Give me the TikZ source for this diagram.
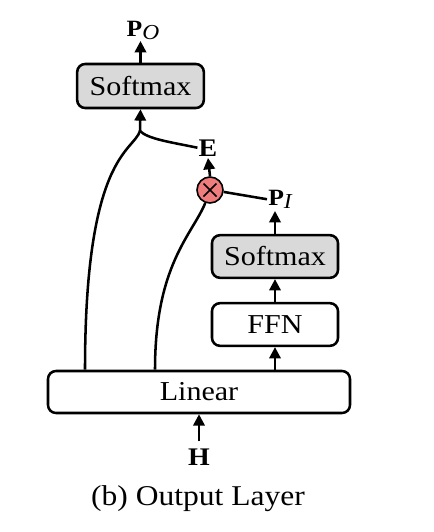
\documentclass[tikz,border=0pt]{standalone}
\usepackage{fontspec}
\setmainfont{Liberation Serif}[FakeStretch=1.1]
\usetikzlibrary{arrows.meta,calc}
\definecolor{boxgray}{RGB}{217,217,217}
\definecolor{mulred}{RGB}{240,125,125}
\begin{document}
\begin{tikzpicture}[x=0.75pt,y=-0.75pt,
  line width=1.9pt,
  arr/.style={-{Triangle[length=8.5pt,width=8.5pt]}},
  blk/.style={draw,rounded corners=6pt,inner sep=0pt,font=\fontsize{20.5}{24}\selectfont},
  gblk/.style={blk,fill=boxgray},
  lbl/.style={inner sep=0pt,font=\fontsize{19}{22}\selectfont\bfseries},
  plbl/.style={inner sep=0pt,font=\fontsize{17.5}{20}\selectfont\bfseries},
  mul/.style={circle,draw,fill=mulred,minimum size=19.5pt,inner sep=0pt,line width=1.2pt}]
\useasboundingbox (0,0) rectangle (434,532);
% boxes
\node[gblk,minimum width=95pt,minimum height=33pt] (sm1) at (140.5,86) {Softmax};
\node[gblk,minimum width=94.5pt,minimum height=32pt] (sm2) at (275,256.5) {Softmax};
\node[blk,minimum width=94.5pt,minimum height=32pt] (ffn) at (275,324.5) {FFN};
\node[blk,minimum width=226.5pt,minimum height=31.5pt] (lin) at (199,392) {Linear};
% labels
\node[plbl,anchor=base] (PO) at (143,36) {P\raisebox{-0.35ex}{\normalfont\itshape\fontsize{16}{18}\selectfont O}};
\node[lbl,anchor=base] (E) at (208,156) {E};
\node[plbl,anchor=base west] (PI) at (267,205) {P\raisebox{-0.35ex}{\normalfont\itshape\fontsize{16}{18}\selectfont I}};
\node[lbl,anchor=base] (H) at (199,465) {H};
\node[inner sep=0pt,anchor=base,font=\fontsize{21.5}{25}\selectfont] (cap) at (198,505) {(b) Output Layer};
% multiply
\node[mul] (ox) at (210,190) {};
\draw[line width=1.2pt] ($(ox)+(-6.5,-6.5)$) -- ($(ox)+(6.5,6.5)$) ($(ox)+(-6.5,6.5)$) -- ($(ox)+(6.5,-6.5)$);
% junction
\coordinate (j) at (140,131);
% connectors
\draw[arr] (sm1.north) -- ($(sm1.north |- PO.base)+(0,5)$);
\draw[arr] (j) -- (sm1.south);
\draw ([xshift=-85.5pt]lin.north) .. controls (85,155) and (133,152) .. (j);
\draw (j) .. controls (148,139) and (170,142) .. (E.west);
\draw ([xshift=-33pt]lin.north) .. controls (155,265) and (192,235) .. (ox.-110);
\draw[arr] (ox.north) -- ($(E.base)+(0,2)$);
\draw (ox.-8) -- (PI.west);
\draw[arr] (sm2.north) -- ($(sm2.north |- PI.base)+(0,6)$);
\draw[arr] (ffn.north) -- (sm2.south);
\draw[arr] (lin.north -| ffn.south) -- (ffn.south);
\draw[arr] ($(lin.south)+(0,27)$) -- (lin.south);
\end{tikzpicture}
\end{document}
